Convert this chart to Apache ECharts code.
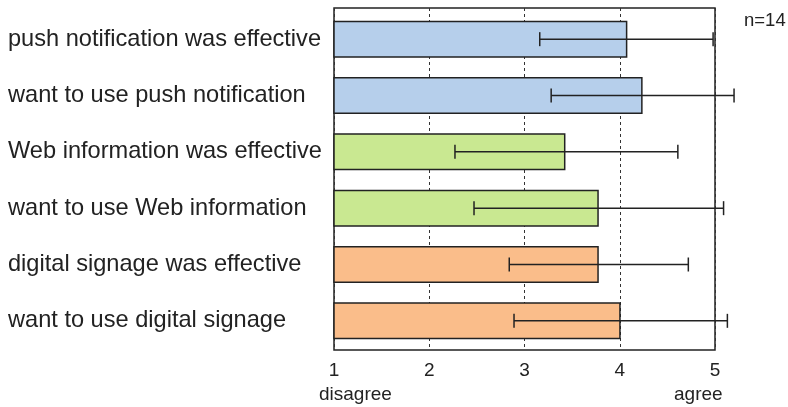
<!DOCTYPE html>
<html>
<head>
<meta charset="utf-8">
<script src="https://cdn.jsdelivr.net/npm/echarts@6/dist/echarts.min.js"></script>
<style>html,body{margin:0;padding:0;background:#fff;}#c{width:788px;height:407px;}</style>
</head>
<body>
<div id="c"></div>
<script>
const categories = [
  'push notification was effective',
  'want to use push notification',
  'Web information was effective',
  'want to use Web information',
  'digital signage was effective',
  'want to use digital signage'
];
const means = [4.08, 4.24, 3.43, 3.78, 3.78, 4.01];
const errLow = [3.16, 3.28, 2.27, 2.47, 2.84, 2.89];
const errHigh = [4.98, 5.20, 4.61, 5.09, 4.72, 5.13];
const barColors = ['#b6cfeb', '#b6cfeb', '#c9e891', '#c9e891', '#fabd8a', '#fabd8a'];
const xTicks = [1, 2, 3, 4, 5];
const scaleNames = ['disagree', 'agree'];
const nLabel = 'n=14';

const FONT = '"Liberation Sans", Arial, sans-serif';
const INK = '#222';

const chart = echarts.init(document.getElementById('c'), null, {renderer: 'canvas'});
const option = {
  animation: false,
  backgroundColor: '#fff',
  textStyle: {fontFamily: FONT},
  grid: [
    {left: 334, width: 381, top: 8, height: 342, show: true, borderColor: INK, borderWidth: 1.5, backgroundColor: 'transparent'},
    {left: 334, width: 381, top: 11, height: 338}
  ],
  xAxis: [
    {
      gridIndex: 0, type: 'value', min: xTicks[0], max: xTicks[xTicks.length - 1], interval: 1,
      axisLine: {show: false}, axisTick: {show: false},
      axisLabel: {fontSize: 19, color: INK, margin: 11, fontFamily: FONT},
      splitLine: {show: true, lineStyle: {color: '#333', width: 1, type: [3, 3]}}
    },
    {gridIndex: 1, type: 'value', min: xTicks[0], max: xTicks[xTicks.length - 1], show: false}
  ],
  yAxis: [
    {gridIndex: 0, type: 'value', show: false},
    {
      gridIndex: 1, type: 'category', inverse: true, data: categories,
      axisLine: {show: false}, axisTick: {show: false},
      axisLabel: {align: 'left', margin: 326, fontSize: 23.6, color: INK, fontFamily: FONT}
    }
  ],
  graphic: [
    {type: 'text', left: 319, top: 385, style: {text: scaleNames[0], font: '19px ' + FONT, fill: INK}},
    {type: 'text', left: 674, top: 385, style: {text: scaleNames[1], font: '19px ' + FONT, fill: INK}},
    {type: 'text', left: 744, top: 11, style: {text: nLabel, font: '18.5px ' + FONT, fill: INK}}
  ],
  series: [
    {
      type: 'bar', xAxisIndex: 1, yAxisIndex: 1, barWidth: 37,
      data: means.map((v, i) => ({value: v, itemStyle: {color: barColors[i], borderColor: INK, borderWidth: 1.5}})),
      z: 2
    },
    {
      type: 'custom', xAxisIndex: 1, yAxisIndex: 1, clip: false, z: 5,
      data: categories.map((c, i) => [errLow[i], errHigh[i], i]),
      renderItem: function (params, api) {
        const lo = api.coord([api.value(0), api.value(2)]);
        const hi = api.coord([api.value(1), api.value(2)]);
        const h = 7;
        const st = {stroke: INK, lineWidth: 1.5};
        return {
          type: 'group',
          children: [
            {type: 'line', shape: {x1: lo[0], y1: lo[1], x2: hi[0], y2: hi[1]}, style: st},
            {type: 'line', shape: {x1: lo[0], y1: lo[1] - h, x2: lo[0], y2: lo[1] + h}, style: st},
            {type: 'line', shape: {x1: hi[0], y1: hi[1] - h, x2: hi[0], y2: hi[1] + h}, style: st}
          ]
        };
      }
    }
  ]
};
chart.setOption(option);
</script>
</body>
</html>
